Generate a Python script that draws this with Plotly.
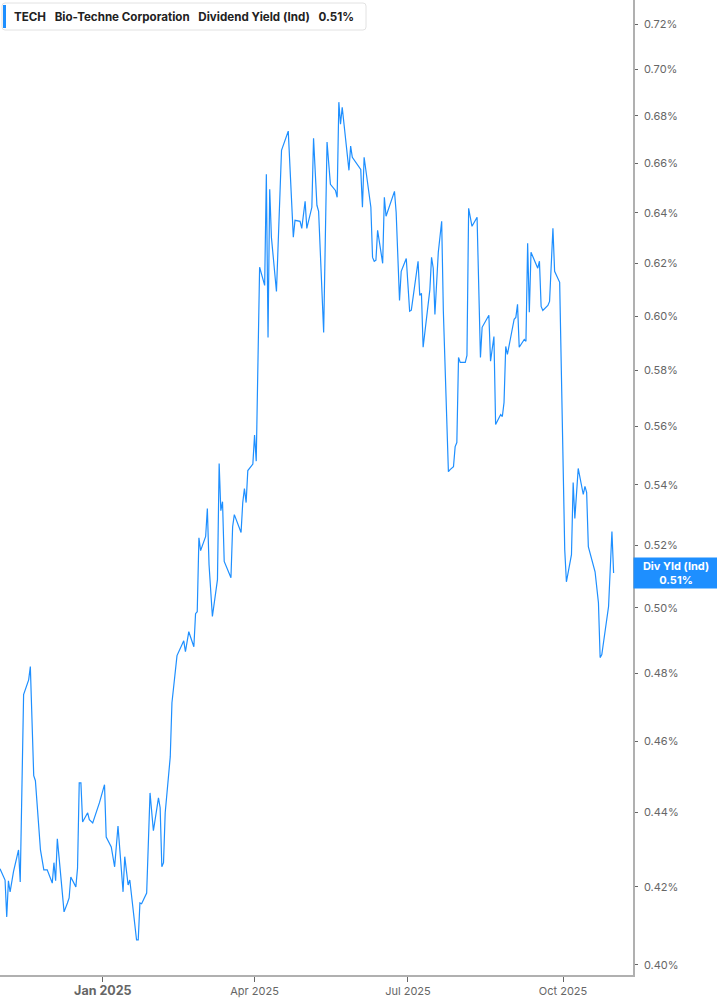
"""
TECH (Bio-Techne) - dividend yield (indicated), ultimo anno.

Linea singola su asse log, asse y a destra, etichetta dell'ultimo valore
in un box blu sul bordo destro.
"""
import math

import plotly.graph_objects as go

COLOR_LINE = "#1e8fff"
COLOR_AXIS = "#b0b0b0"
COLOR_TICK = "#666666"
COLOR_TEXT = "#222222"
FONT_FAMILY = "Inter, 'Noto Sans', sans-serif"

W, H = 717, 1005
PLOT_W, PLOT_H = 633, 975   # area del grafico in pixel (margini: r=84, b=30)

# ---- dati (dividend yield %) ----
dates = [
    "2024-11-01", "2024-11-04", "2024-11-05", "2024-11-06", "2024-11-07", "2024-11-09",
    "2024-11-12", "2024-11-13", "2024-11-15", "2024-11-18", "2024-11-19", "2024-11-21",
    "2024-11-22", "2024-11-25", "2024-11-27", "2024-11-29",
    "2024-12-02", "2024-12-03", "2024-12-04", "2024-12-05", "2024-12-06", "2024-12-09",
    "2024-12-11", "2024-12-12", "2024-12-13", "2024-12-16", "2024-12-17", "2024-12-18",
    "2024-12-19", "2024-12-20", "2024-12-23", "2024-12-24", "2024-12-26", "2024-12-30",
    "2025-01-02", "2025-01-03", "2025-01-06", "2025-01-08", "2025-01-10", "2025-01-13",
    "2025-01-14", "2025-01-16", "2025-01-17", "2025-01-21", "2025-01-22", "2025-01-23",
    "2025-01-24", "2025-01-27", "2025-01-29", "2025-01-31",
    "2025-02-03", "2025-02-04", "2025-02-05", "2025-02-06", "2025-02-07", "2025-02-10",
    "2025-02-11", "2025-02-14", "2025-02-18", "2025-02-19", "2025-02-21", "2025-02-24",
    "2025-02-25", "2025-02-26", "2025-02-27", "2025-02-28",
    "2025-03-03", "2025-03-04", "2025-03-05", "2025-03-07", "2025-03-10", "2025-03-11",
    "2025-03-12", "2025-03-13", "2025-03-14", "2025-03-18", "2025-03-19", "2025-03-20",
    "2025-03-24", "2025-03-25", "2025-03-26", "2025-03-27", "2025-03-28", "2025-03-31",
    "2025-04-01", "2025-04-02", "2025-04-04", "2025-04-07", "2025-04-08", "2025-04-09",
    "2025-04-10", "2025-04-11", "2025-04-14", "2025-04-17", "2025-04-21", "2025-04-24",
    "2025-04-25", "2025-04-28", "2025-04-29",
    "2025-05-01", "2025-05-02", "2025-05-05", "2025-05-06", "2025-05-08", "2025-05-09",
    "2025-05-12", "2025-05-14", "2025-05-16", "2025-05-19", "2025-05-20", "2025-05-21",
    "2025-05-22", "2025-05-23", "2025-05-25", "2025-05-27", "2025-05-28", "2025-05-29",
    "2025-06-03", "2025-06-04", "2025-06-05", "2025-06-09", "2025-06-10", "2025-06-11",
    "2025-06-12", "2025-06-13", "2025-06-16", "2025-06-17", "2025-06-18", "2025-06-23",
    "2025-06-24", "2025-06-26", "2025-06-27", "2025-06-30",
    "2025-07-02", "2025-07-03", "2025-07-07", "2025-07-08", "2025-07-09", "2025-07-10",
    "2025-07-14", "2025-07-15", "2025-07-16", "2025-07-17", "2025-07-19", "2025-07-21",
    "2025-07-22", "2025-07-25", "2025-07-26", "2025-07-28", "2025-07-29", "2025-07-30",
    "2025-07-31",
    "2025-08-01", "2025-08-04", "2025-08-05", "2025-08-06", "2025-08-08", "2025-08-11",
    "2025-08-13", "2025-08-14", "2025-08-18", "2025-08-19", "2025-08-21", "2025-08-22",
    "2025-08-25", "2025-08-26", "2025-08-27", "2025-08-28", "2025-08-29",
    "2025-09-02", "2025-09-03", "2025-09-04", "2025-09-05", "2025-09-08", "2025-09-09",
    "2025-09-10", "2025-09-11", "2025-09-12", "2025-09-16", "2025-09-17", "2025-09-18",
    "2025-09-19", "2025-09-22", "2025-09-23", "2025-09-25", "2025-09-26", "2025-09-29",
    "2025-10-02", "2025-10-03", "2025-10-06", "2025-10-07", "2025-10-08", "2025-10-10",
    "2025-10-13", "2025-10-14", "2025-10-15", "2025-10-16", "2025-10-20", "2025-10-22",
    "2025-10-23", "2025-10-24", "2025-10-28", "2025-10-30", "2025-10-31",
]

div_yield = [
    # nov 2024
    0.4248, 0.4218, 0.4122, 0.4216, 0.4187, 0.4240, 0.4298, 0.4213, 0.4736, 0.4780,
    0.4820, 0.4502, 0.4488, 0.4298, 0.4245, 0.4245,
    # dic 2024
    0.4210, 0.4264, 0.4216, 0.4328, 0.4280, 0.4135, 0.4158, 0.4171, 0.4226, 0.4200,
    0.4250, 0.4482, 0.4482, 0.4374, 0.4399, 0.4380, 0.4371, 0.4427,
    # gen 2025
    0.4477, 0.4333, 0.4306, 0.4253, 0.4363, 0.4187, 0.4280, 0.4205, 0.4218, 0.4063,
    0.4063, 0.4158, 0.4156, 0.4184, 0.4454, 0.4350,
    # feb
    0.4440, 0.4413, 0.4253, 0.4264, 0.4399, 0.4556, 0.4712, 0.4853, 0.4898, 0.4865,
    0.4926, 0.4880, 0.4982, 0.4988, 0.5224, 0.5182,
    # mar
    0.5228, 0.5320, 0.5137, 0.4973, 0.5089, 0.5472, 0.5313, 0.5343, 0.5147, 0.5095,
    0.5260, 0.5300, 0.5241, 0.5340, 0.5387, 0.5340, 0.5448, 0.5470,
    # apr
    0.5570, 0.5480, 0.6186, 0.6116, 0.6556, 0.5920, 0.6495, 0.6303, 0.6093, 0.6655,
    0.6735, 0.6303, 0.6370, 0.6366, 0.6338,
    # mag
    0.6446, 0.6338, 0.6422, 0.6705, 0.6430, 0.6406, 0.5939, 0.6689, 0.6515, 0.6490,
    0.6462, 0.6858, 0.6764, 0.6836, 0.6693, 0.6572, 0.6672, 0.6626,
    # giu
    0.6576, 0.6422, 0.6626, 0.6422, 0.6224, 0.6209, 0.6213, 0.6330, 0.6201, 0.6462,
    0.6386, 0.6486, 0.6402, 0.6059, 0.6170, 0.6220,
    # lug
    0.6018, 0.6022, 0.6209, 0.6078, 0.6086, 0.5884, 0.6100, 0.6224, 0.6182, 0.6006,
    0.6244, 0.6366, 0.6018, 0.5444, 0.5451, 0.5461, 0.5530, 0.5544, 0.5847,
    # ago
    0.5829, 0.5829, 0.5854, 0.6418, 0.6346, 0.6382, 0.5847, 0.5958, 0.6003, 0.5833,
    0.5924, 0.5607, 0.5642, 0.5635, 0.5685, 0.5887, 0.5858,
    # set
    0.5988, 0.5995, 0.6044, 0.5884, 0.5913, 0.5906, 0.6279, 0.6014, 0.6244, 0.6182,
    0.6209, 0.6036, 0.6021, 0.6040, 0.6055, 0.6338, 0.6170, 0.6128,
    # ott
    0.5185, 0.5082, 0.5169, 0.5407, 0.5287, 0.5455, 0.5367, 0.5394, 0.5374, 0.5195,
    0.5114, 0.5016, 0.4847, 0.4856, 0.5004, 0.5244, 0.5110,
]

y_tickvals = [0.40, 0.42, 0.44, 0.46, 0.48, 0.50, 0.52, 0.54, 0.56, 0.58,
              0.60, 0.62, 0.64, 0.66, 0.68, 0.70, 0.72]
y_ticktext = ["0.40%", "0.42%", "0.44%", "0.46%", "0.48%", "0.50%", "0.52%", "0.54%", "0.56%",
              "0.58%", "0.60%", "0.62%", "0.64%", "0.66%", "0.68%", "0.70%", "0.72%"]
x_tickvals = ["2025-01-01", "2025-04-01", "2025-07-01", "2025-10-01"]
x_ticktext = ["<span style='font-size:12.5px'><b>Jan 2025</b></span>",
              "Apr 2025", "Jul 2025", "Oct 2025"]

ticker = "TECH"
company = "Bio-Techne Corporation"
metric = "Dividend Yield (Ind)"
last_value = "0.51%"


def px_x(px):
    """pixel orizzontale -> coordinata paper"""
    return px / PLOT_W


def px_y(py):
    """pixel verticale (dall'alto) -> coordinata paper"""
    return 1 - py / PLOT_H


def rounded_box(x0, y0, x1, y1, r):
    """path (coordinate paper) di un rettangolo con angoli arrotondati, in pixel"""
    X = px_x
    Y = px_y
    return (f"M{X(x0 + r)},{Y(y0)} L{X(x1 - r)},{Y(y0)} Q{X(x1)},{Y(y0)} {X(x1)},{Y(y0 + r)} "
            f"L{X(x1)},{Y(y1 - r)} Q{X(x1)},{Y(y1)} {X(x1 - r)},{Y(y1)} "
            f"L{X(x0 + r)},{Y(y1)} Q{X(x0)},{Y(y1)} {X(x0)},{Y(y1 - r)} "
            f"L{X(x0)},{Y(y0 + r)} Q{X(x0)},{Y(y0)} {X(x0 + r)},{Y(y0)} Z")


fig = go.Figure()
fig.add_trace(go.Scatter(
    x=dates, y=div_yield, mode="lines",
    line=dict(color=COLOR_LINE, width=1.2),
    hovertemplate="%{x}<br>%{y:.2f}%<extra></extra>",
    showlegend=False,
))

fig.update_layout(
    width=W, height=H,
    paper_bgcolor="white", plot_bgcolor="white",
    font=dict(family=FONT_FAMILY, color=COLOR_TEXT, size=11),
    margin=dict(l=0, r=W - PLOT_W, t=0, b=H - PLOT_H),
    xaxis=dict(
        type="date",
        range=["2024-11-01", "2025-11-11 12:00"],
        tickvals=x_tickvals, ticktext=x_ticktext,
        showgrid=False, zeroline=False,
        showline=True, linecolor=COLOR_AXIS, linewidth=2,
        ticks="outside", ticklen=5, tickcolor=COLOR_TICK,
        tickfont=dict(size=11, color=COLOR_TICK),
    ),
    yaxis=dict(
        type="log", side="right",
        range=[math.log10(0.3975), math.log10(0.731)],
        tickvals=y_tickvals, ticktext=y_ticktext,
        showgrid=False, zeroline=False,
        showline=True, linecolor=COLOR_AXIS, linewidth=1.5,
        ticks="outside", ticklen=3, tickcolor=COLOR_TICK,
        tickfont=dict(size=11, color=COLOR_TICK),
        ticklabelstandoff=4,
    ),
)

# box intestazione in alto a sinistra (bordo arrotondato + barretta blu)
fig.add_shape(
    type="path", xref="paper", yref="paper", path=rounded_box(2, 3, 366, 30, 3),
    fillcolor="white", line=dict(color="#e2e2e2", width=1), layer="above",
)
fig.add_shape(
    type="rect", xref="paper", yref="paper",
    x0=px_x(3), x1=px_x(6), y0=px_y(28), y1=px_y(5),
    fillcolor=COLOR_LINE, line=dict(width=0), layer="above",
)
gap = "\u00a0\u00a0\u2009"
fig.add_annotation(
    xref="paper", yref="paper", x=px_x(12), y=px_y(16.5),
    xanchor="left", yanchor="middle", showarrow=False, align="left",
    text=f"<b>{ticker}</b>{gap}<b>{company}</b>{gap}<b>{metric}</b>{gap}<b>{last_value}</b>",
    font=dict(size=11.6, color=COLOR_TEXT),
)

# etichetta ultimo valore sull'asse destro
fig.add_annotation(
    xref="paper", yref="y", x=1, y=math.log10(div_yield[-1]),
    xanchor="left", yanchor="middle", showarrow=False, align="center",
    text=f"<b>Div Yld (Ind)</b><br><b>{last_value}</b>",
    font=dict(size=11, color="white"),
    bgcolor=COLOR_LINE, borderpad=2, width=80, height=26,
)

# il body ha un margine di default di 8px: lo azzero
fig.write_html("out.html", config={"displayModeBar": False},
               post_script="document.body.style.margin='0';")
